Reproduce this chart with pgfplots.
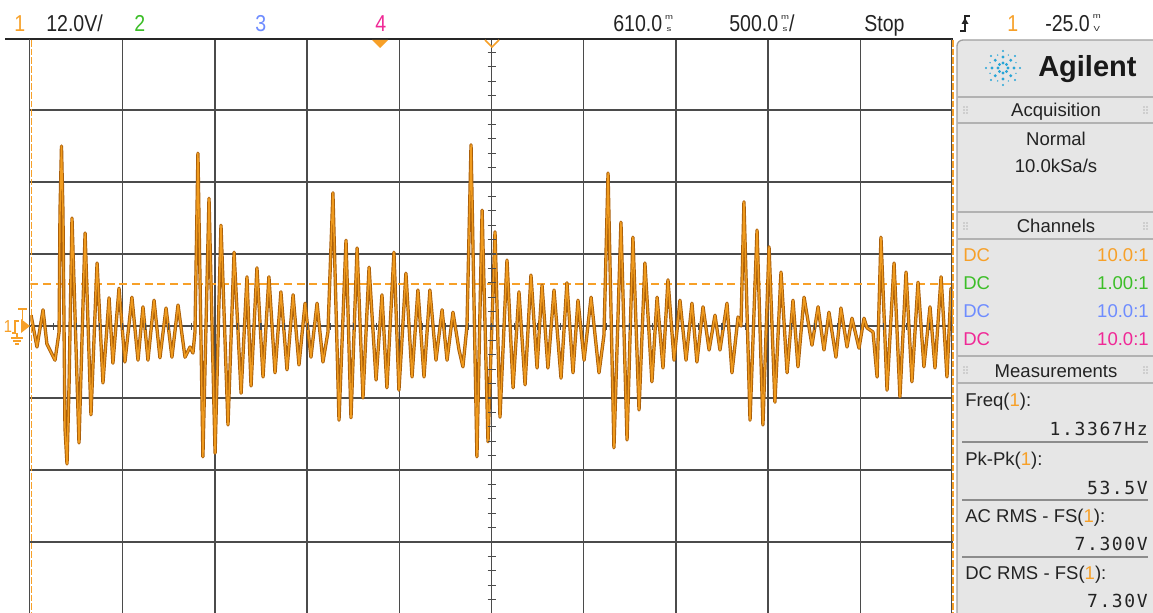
\documentclass[border=0pt]{standalone}
\usepackage{pgfplots}
\pgfplotsset{compat=1.18}
\usepackage{pgfplotstable}
\usepackage{fontspec}
\setmainfont{Liberation Sans}
\newfontfamily\scopefont[FakeStretch=0.85]{Liberation Sans}
\newfontfamily\unitfont[FakeStretch=1.3]{Liberation Sans}
\newfontfamily\panelfont{Liberation Sans}
\newfontfamily\monofont[LetterSpace=9]{DejaVu Sans Mono}
\definecolor{chA}{RGB}{247,160,40}
\definecolor{chB}{RGB}{60,190,40}
\definecolor{chC}{RGB}{110,140,255}
\definecolor{chD}{RGB}{240,40,150}
\definecolor{gridc}{RGB}{75,75,75}
\definecolor{panel}{RGB}{230,230,230}
\definecolor{tracedark}{RGB}{170,95,10}
\definecolor{tracelight}{RGB}{240,155,30}
\definecolor{logo}{RGB}{40,165,215}
\definecolor{txt}{RGB}{35,35,35}
\newcommand\stk[2]{\kern2.2pt{\unitfont\fontsize{5.5}{5.5}\selectfont\shortstack[c]{#1\\[3.2pt]#2}}}

% time (ms) vs channel 1 voltage (V)
\pgfplotstableread{
t v
-1887 1.8
-1855 -3.5
-1822 2.7
-1801 -3.0
-1757 -5.7
-1735 -1.0
-1730 19
-1722 30
-1714 19
-1703 -17
-1692 -23
-1681 -10
-1665 18
-1627 -19.5
-1594 15.5
-1562 -14.8
-1529 10.5
-1497 -9.5
-1464 4.7
-1443 -6.2
-1410 6.3
-1378 -6.0
-1340 4.8
-1307 -5.7
-1280 3.2
-1253 -5.7
-1220 4.3
-1188 -5.3
-1155 3.0
-1123 -5.2
-1090 3.5
-1052 -5.2
-1025 -3.5
-1009 -4.5
-998 -1.0
-982 28.8
-955 -21.8
-922 21.3
-889 -21.2
-857 16.8
-819 -16.5
-786 12.3
-748 -11.2
-716 8.2
-694 -10.0
-662 9.7
-629 -8.5
-597 8.2
-564 -7.8
-532 5.7
-499 -7.3
-466 5.2
-434 -6.5
-401 3.8
-369 -5.2
-336 3.8
-304 -6.0
-277 -1.0
-250 22.2
-217 -15.7
-179 14.3
-152 -15.3
-119 13.0
-87 -12.0
-54 9.8
-16 -9.0
16 5.2
43 -10.3
81 12.3
108 -10.7
146 8.8
179 -8.5
211 6.0
244 -8.5
276 6.0
309 -5.7
342 2.7
369 -5.7
401 2.3
434 -4.0
455 -6.8
477 0.0
499 30.2
531 -21.8
559 19.3
591 -19.3
629 15.7
656 -15.2
694 11.0
727 -10.3
759 5.7
792 -9.8
824 8.5
857 -7.0
884 6.8
916 -7.0
949 6.0
987 -8.7
1019 7.2
1052 -7.8
1079 4.3
1112 -5.7
1150 4.8
1193 -7.8
1220 -1.5
1242 25.5
1274 -20.3
1312 17.3
1345 -19.0
1377 14.8
1410 -14.0
1442 10.5
1480 -9.3
1508 4.8
1540 -7.0
1567 7.7
1600 -5.7
1632 4.3
1665 -5.7
1697 3.8
1724 -6.0
1757 3.2
1790 -4.0
1822 1.8
1849 -4.0
1887 3.8
1914 -7.8
1947 1.5
1963 0.0
1979 20.7
2012 -15.7
2050 16.0
2082 -16.5
2115 13.2
2147 -12.7
2180 9.0
2213 -7.8
2245 4.3
2272 -6.8
2305 4.8
2348 -3.2
2381 3.2
2413 -4.0
2440 2.3
2478 -5.2
2505 3.0
2538 -3.5
2565 1.3
2603 -3.7
2630 1.3
2646 -0.3
2679 -1.0
2701 -8.5
2722 14.8
2755 -10.7
2793 10.5
2825 -11.8
2858 9.0
2890 -9.3
2923 7.3
2955 -6.8
2988 3.2
3015 -7.0
3048 8.2
3080 -8.5
3102 6.3
3113 0.0
}\trace

\begin{document}
\begin{tikzpicture}
\fill[white] (0,0) rectangle (864.75pt,-459.75pt);
\path[use as bounding box] (0,0) rectangle (864.75pt,-459.75pt);
\begin{axis}[at={(22.875pt,-460.5pt)}, anchor=south west,
  scale only axis, width=691.5pt, height=432pt,
  xmin=-1890, xmax=3110, ymin=-48, ymax=48,
  xtick={-1390,-890,-390,110,610,1110,1610,2110,2610},
  ytick={-36,-24,-12,0,12,24,36},
  xticklabels={}, yticklabels={}, major tick length=0pt,
  grid=major, major grid style={gridc, line width=1.1pt},
  axis line style={draw=none}]
\addplot[chA, line width=1.1pt, dash pattern=on 6pt off 3.5pt] coordinates {(-1890,7) (3110,7)};
\addplot[tracedark, line width=2.5pt, line join=round] table[x=t,y=v] {\trace};
\addplot[tracelight, line width=1.1pt, line join=round] table[x=t,y=v] {\trace};
\end{axis}
\begin{scope}[x=0.75pt,y=-0.75pt]
% borders
\draw[black!85, line width=1.5pt] (5,39) -- (953,39);
\draw[gridc, line width=1.1pt] (29.5,39) -- (29.5,613);
\draw[chA, line width=1.1pt, dash pattern=on 5pt off 1.5pt] (31.5,40) -- (31.5,613);
\draw[gridc, line width=1.1pt] (951.5,39) -- (951.5,613);
\draw[chA, line width=1.1pt, dash pattern=on 5pt off 1.5pt] (953,40) -- (953,613);
% centre ticks
\foreach \k in {1,...,39} \draw[gridc, line width=0.8pt] ({30.5+\k*23.05},322.5) -- ++(0,7);
\foreach \k in {1,...,39} \draw[gridc, line width=0.8pt] (487.5,{38+\k*14.4}) -- ++(8,0);
% top markers
\fill[chA] (372,40) -- (388,40) -- (380,48) -- cycle;
\draw[chA, line width=1.2pt] (485,40) -- (492,47) -- (499,40);
% left marker
\node[text=chA, inner sep=0pt, font=\scopefont\fontsize{13}{13}\selectfont] at (8,327) {1};
\fill[chA] (21,319) -- (30,326) -- (21,333) -- cycle;
\draw[chA, line width=0.9pt] (18,309) -- (27,309) (22.5,309) -- (22.5,320);
\draw[chA, line width=0.9pt] (12,333) -- (15,333) -- (15,321) -- (19,321);
\draw[chA, line width=0.9pt] (17,333) -- (17,338) (11,338) -- (23,338) (13,341) -- (21,341) (15,344) -- (19,344);
% top text
\begin{scope}[every node/.style={anchor=base west, inner sep=0pt, font=\scopefont\fontsize{17.25}{17.25}\selectfont}]
\node[text=chA] at (14,32) {1};
\node[text=txt] at (46,32) {12.0V/};
\node[text=chB] at (134,32) {2};
\node[text=chC] at (255,32) {3};
\node[text=chD] at (375,32) {4};
\node[text=txt] at (613,32) {610.0\stk{m}{s}};
\node[text=txt] at (729,32) {500.0\stk{m}{s}/};
\node[text=txt] at (864,32) {Stop};
\node[text=chA] at (1007,32) {1};
\node[text=txt] at (1045,32) {-25.0\stk{m}{V}};
\end{scope}
\draw[txt, line width=0.9pt] (960,31) -- (965,31) -- (965,16) -- (970,16);
\fill[txt] (961.5,24) -- (968.5,24) -- (965,18) -- cycle;
% panel
\fill[panel, rounded corners=4.5pt] (957,620) -- (957,40) -- (1160,40) -- (1160,620) -- cycle;
\draw[gray!75, line width=1pt, rounded corners=4.5pt] (957,620) -- (957,40) -- (1160,40);
\foreach \yy in {97,123,212,239,356,383} \draw[gray!60, line width=0.9pt] (957,\yy) -- (1153,\yy);
\foreach \yy in {442,500,557} \draw[gray!90, line width=0.9pt] (962,\yy) -- (1148,\yy);
\foreach \cy in {110,226,370} {
  \foreach \dx in {0,3} \foreach \dy in {-3,0,3} {
    \fill[gray] ({964+\dx},{\cy+\dy}) circle (0.7);
    \fill[gray] ({1144+\dx},{\cy+\dy}) circle (0.7);
  }
}
% logo
\foreach \a in {0,45,...,315} {
  \fill[logo] (1003,68) ++(\a:5) circle (1.6);
  \fill[logo] (1003,68) ++(\a:11) circle (1.6);
  \fill[logo] (1003,68) ++(\a:17) circle (1.1);
}
\foreach \a in {22.5,67.5,...,337.5} \fill[logo] (1003,68) ++(\a:14) circle (0.8);
\node[anchor=base west, inner sep=0pt, text=black!90, font=\panelfont\bfseries\fontsize{21.75}{21.75}\selectfont] at (1038,77) {Agilent};
\begin{scope}[every node/.style={inner sep=0pt, text=txt, font=\panelfont\fontsize{13.9}{13.9}\selectfont}]
\node[anchor=base] at (1056,117) {Acquisition};
\node[anchor=base] at (1056,146) {Normal};
\node[anchor=base] at (1056,173) {10.0kSa/s};
\node[anchor=base] at (1056,233) {Channels};
\node[anchor=base] at (1056,377) {Measurements};
\node[anchor=base west, text=chA] at (963,262) {DC};
\node[anchor=base west, text=chB] at (963,289) {DC};
\node[anchor=base west, text=chC] at (963,317) {DC};
\node[anchor=base west, text=chD] at (963,345) {DC};
\node[anchor=base east, text=chA] at (1149,262) {10.0:1};
\node[anchor=base east, text=chB] at (1149,289) {1.00:1};
\node[anchor=base east, text=chC] at (1149,317) {10.0:1};
\node[anchor=base east, text=chD] at (1149,345) {10.0:1};
\node[anchor=base west] at (965,406) {Freq(\textcolor{chA}{1}):};
\node[anchor=base west] at (965,465) {Pk-Pk(\textcolor{chA}{1}):};
\node[anchor=base west] at (965,522) {AC RMS - FS(\textcolor{chA}{1}):};
\node[anchor=base west] at (965,579) {DC RMS - FS(\textcolor{chA}{1}):};
\end{scope}
\begin{scope}[every node/.style={inner sep=0pt, anchor=base east, text=txt, font=\monofont\fontsize{13.5}{13.5}\selectfont}]
\node at (1148,435) {1.3367Hz};
\node at (1148,494) {53.5V};
\node at (1148,550) {7.300V};
\node at (1148,607) {7.30V};
\end{scope}
\end{scope}
\end{tikzpicture}
\end{document}
